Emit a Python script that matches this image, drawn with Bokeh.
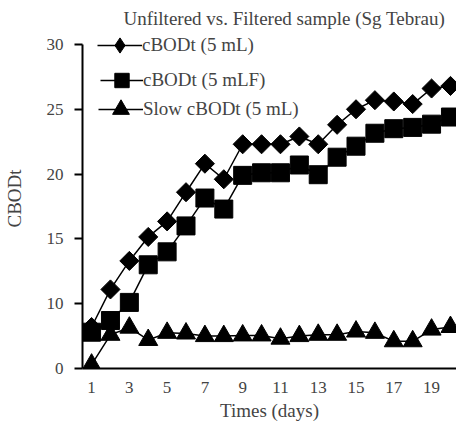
import math
from bokeh.plotting import figure
from bokeh.models import FixedTicker, Legend, LegendItem, Range1d
from bokeh.embed import file_html
from bokeh.resources import INLINE

# ---- data ----
days = list(range(1, 21))
cbodt_5ml = [8.2, 11.1, 13.3, 15.15, 16.35, 18.6, 20.8, 19.6, 22.3, 22.3,
             22.3, 22.9, 22.3, 23.8, 25.0, 25.7, 25.6, 25.4, 26.6, 26.8]
cbodt_5mlf = [7.8, 8.7, 10.1, 13.0, 14.0, 16.0, 18.15, 17.3, 19.9, 20.1,
              20.1, 20.7, 19.95, 21.3, 22.15, 23.15, 23.5, 23.6, 23.85, 24.4]
slow_cbodt = [5.3, 7.6, 8.15, 7.2, 7.75, 7.7, 7.5, 7.5, 7.55, 7.55,
              7.3, 7.5, 7.6, 7.6, 7.85, 7.75, 7.1, 7.1, 8.0, 8.2]
x_ticks = [1, 3, 5, 7, 9, 11, 13, 15, 17, 19]
y_ticks = [5, 10, 15, 20, 25, 30]
y_tick_labels = ["0", "10", "15", "20", "25", "30"]
series_names = ["cBODt (5 mL)", "cBODt (5 mLF)", "Slow cBODt (5 mL)"]
title_text = "Unfiltered vs. Filtered sample (Sg Tebrau)"

FONT = "Liberation Serif"

p = figure(width=456, height=423, output_backend="svg", toolbar_location=None,
           x_range=Range1d(0.52, 20.32), y_range=Range1d(5, 31.23),
           min_border_left=82, min_border_right=0, min_border_top=28,
           min_border_bottom=54)
p.outline_line_color = None
p.xgrid.visible = False
p.ygrid.visible = False
p.background_fill_color = "white"
p.border_fill_color = "white"

p.title.text = title_text
p.title.text_font = FONT
p.title.text_font_size = "19px"
p.title.text_font_style = "normal"
p.title.align = "left"
p.title.offset = 41
p.title.standoff = 0

# axes
xa = p.xaxis[0]
xa.ticker = FixedTicker(ticks=x_ticks)
xa.major_tick_out = 0
xa.major_tick_in = 0
xa.minor_tick_line_color = None
xa.axis_line_width = 2
xa.major_label_text_font = FONT
xa.major_label_text_font_size = "17px"
xa.major_label_standoff = 13
xa.axis_label = "Times (days)"
xa.axis_label_text_font = FONT
xa.axis_label_text_font_size = "19px"
xa.axis_label_text_font_style = "normal"
xa.axis_label_standoff = 4

ya = p.yaxis[0]
ya.ticker = FixedTicker(ticks=y_ticks)
ya.bounds = (5, 30)
ya.major_label_overrides = {t: l for t, l in zip(y_ticks, y_tick_labels)}
ya.major_tick_out = 8
ya.major_tick_in = 0
ya.major_tick_line_width = 2
ya.minor_tick_line_color = None
ya.axis_line_width = 2
ya.major_label_text_font = FONT
ya.major_label_text_font_size = "17px"
ya.major_label_standoff = 11
ya.axis_label = "CBODt"
ya.axis_label_text_font = FONT
ya.axis_label_text_font_size = "19px"
ya.axis_label_text_font_style = "normal"
ya.axis_label_standoff = 19

# series
l3 = p.line(days, slow_cbodt, line_color="black", line_width=1.5)
m3 = p.scatter(days, slow_cbodt, marker="triangle", size=19,
               fill_color="black", line_color="black")
l2 = p.line(days, cbodt_5mlf, line_color="black", line_width=1.5)
m2 = p.scatter(days, cbodt_5mlf, marker="square", size=18,
               fill_color="black", line_color="black")
l1 = p.line(days, cbodt_5ml, line_color="black", line_width=1.5)
m1 = p.scatter(days, cbodt_5ml, marker="square", size=13.5, angle=math.pi / 4,
               fill_color="black", line_color="black")
# diamond glyph used only for the legend key (legend keys ignore marker angle)
m1_key = p.scatter(days, cbodt_5ml, marker="diamond", size=20,
                   fill_color="black", line_color="black", visible=False)


def make_legend(label, renderers, loc, gw, gh):
    lg = Legend(items=[LegendItem(label=label, renderers=renderers)], location=loc)
    lg.background_fill_alpha = 0
    lg.border_line_color = None
    lg.inactive_fill_alpha = 0
    lg.padding = 0
    lg.margin = 0
    lg.glyph_width = gw
    lg.glyph_height = gh
    lg.spacing = 0
    lg.label_standoff = 0
    lg.label_text_font = FONT
    lg.label_text_font_size = "19px"
    lg.label_text_baseline = "middle"
    p.add_layout(lg, "center")


make_legend(series_names[0], [l1, m1_key], (15, 304), 45, 38)
make_legend(series_names[1], [l2, m2], (18, 270), 43, 36)
make_legend(series_names[2], [l3, m3], (16, 238), 45, 42)

open("out.html", "w").write(file_html(p, INLINE))
